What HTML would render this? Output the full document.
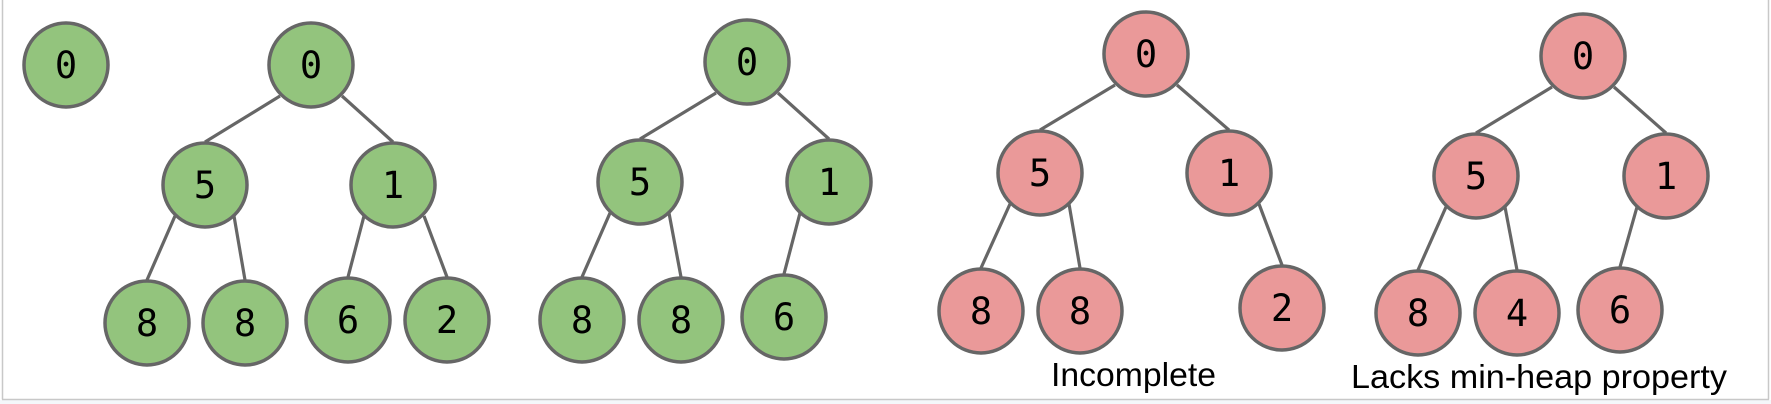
<!DOCTYPE html>
<html><head><meta charset="utf-8"><style>
html,body{margin:0;padding:0;background:#fff;}
svg{display:block;}
</style></head><body>
<svg width="1771" height="404" viewBox="0 0 1771 404" xmlns="http://www.w3.org/2000/svg">
<rect x="0" y="0" width="1771" height="404" fill="#fff"/>
<rect x="0" y="400" width="1771" height="4" fill="#f4f7fa"/>
<line x1="2.5" y1="0" x2="2.5" y2="399.5" stroke="#c8c8c8" stroke-width="1.5"/>
<line x1="1768.5" y1="0" x2="1768.5" y2="399.5" stroke="#c8c8c8" stroke-width="1.5"/>
<line x1="2" y1="399.5" x2="1769" y2="399.5" stroke="#c8c8c8" stroke-width="1.5"/>
<g stroke="#666" stroke-width="3.2">
<!-- tree A -->
<line x1="280" y1="96" x2="205" y2="142"/><line x1="342" y1="96" x2="393" y2="142"/>
<line x1="175" y1="216" x2="147" y2="280"/><line x1="234" y1="216" x2="245" y2="280"/>
<line x1="364" y1="216" x2="348" y2="277"/><line x1="424" y1="216" x2="447" y2="277"/>
<!-- tree B -->
<line x1="716" y1="93" x2="640" y2="139"/><line x1="778" y1="93" x2="829" y2="139"/>
<line x1="610" y1="213" x2="582" y2="277"/><line x1="669" y1="213" x2="681" y2="277"/>
<line x1="800" y1="213" x2="784" y2="274"/>
<!-- tree C -->
<line x1="1115" y1="85" x2="1040" y2="130"/><line x1="1177" y1="85" x2="1229" y2="130"/>
<line x1="1010" y1="204" x2="981" y2="268"/><line x1="1069" y1="204" x2="1080" y2="268"/>
<line x1="1259" y1="204" x2="1282" y2="265"/>
<!-- tree D -->
<line x1="1552" y1="87" x2="1476" y2="133"/><line x1="1614" y1="87" x2="1666" y2="133"/>
<line x1="1446" y1="207" x2="1418" y2="270"/><line x1="1505" y1="207" x2="1517" y2="270"/>
<line x1="1637" y1="207" x2="1620" y2="267"/>
</g>
<g stroke="#666" stroke-width="3.5" fill="#93c47d">
<circle cx="66" cy="65" r="42"/>
<circle cx="311" cy="65" r="42"/><circle cx="205" cy="185" r="42"/><circle cx="393" cy="185" r="42"/>
<circle cx="147" cy="323" r="42"/><circle cx="245" cy="323" r="42"/><circle cx="348" cy="320" r="42"/><circle cx="447" cy="320" r="42"/>
<circle cx="747" cy="62" r="42"/><circle cx="640" cy="182" r="42"/><circle cx="829" cy="182" r="42"/>
<circle cx="582" cy="320" r="42"/><circle cx="681" cy="320" r="42"/><circle cx="784" cy="317" r="42"/>
</g>
<g stroke="#666" stroke-width="3.5" fill="#ea9999">
<circle cx="1146" cy="54" r="42"/><circle cx="1040" cy="173" r="42"/><circle cx="1229" cy="173" r="42"/>
<circle cx="981" cy="311" r="42"/><circle cx="1080" cy="311" r="42"/><circle cx="1282" cy="308" r="42"/>
<circle cx="1583" cy="56" r="42"/><circle cx="1476" cy="176" r="42"/><circle cx="1666" cy="176" r="42"/>
<circle cx="1418" cy="313" r="42"/><circle cx="1517" cy="313" r="42"/><circle cx="1620" cy="310" r="42"/>
</g>
<g font-family="'DejaVu Sans Mono','Liberation Mono',monospace" font-size="37" fill="#000" text-anchor="middle">
<text x="66" y="78">0</text>
<text x="311" y="78">0</text><text x="205" y="198">5</text><text x="393" y="198">1</text>
<text x="147" y="336">8</text><text x="245" y="336">8</text><text x="348" y="333">6</text><text x="447" y="333">2</text>
<text x="747" y="75">0</text><text x="640" y="195">5</text><text x="829" y="195">1</text>
<text x="582" y="333">8</text><text x="681" y="333">8</text><text x="784" y="330">6</text>
<text x="1146" y="67">0</text><text x="1040" y="186">5</text><text x="1229" y="186">1</text>
<text x="981" y="324">8</text><text x="1080" y="324">8</text><text x="1282" y="321">2</text>
<text x="1583" y="69">0</text><text x="1476" y="189">5</text><text x="1666" y="189">1</text>
<text x="1418" y="326">8</text><text x="1517" y="326">4</text><text x="1620" y="323">6</text>
</g>
<g font-family="'Liberation Sans',Arial,sans-serif" font-size="33" fill="#000">
<text x="1051" y="386" textLength="165" lengthAdjust="spacingAndGlyphs">Incomplete</text>
<text x="1351" y="388" textLength="376" lengthAdjust="spacingAndGlyphs">Lacks min-heap property</text>
</g>
</svg>
</body></html>
